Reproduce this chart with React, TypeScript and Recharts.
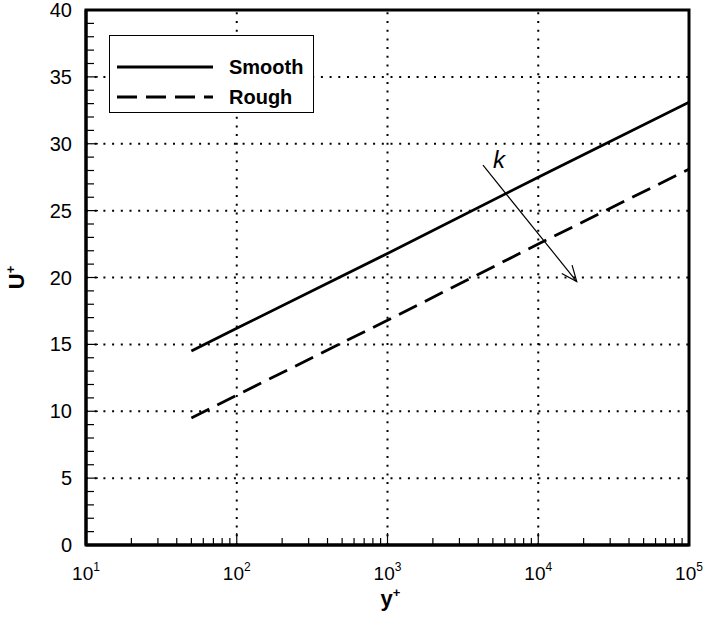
import React from "react";
import {
  LineChart,
  Line,
  XAxis,
  YAxis,
  Legend,
  ReferenceLine,
  ReferenceArea,
  ReferenceDot,
  Label,
} from "recharts";

// y+ positions and the two log-law profiles
const yPlus = [50, 100, 1000, 10000, 100000];
const smooth = [14.5, 16.2, 21.8, 27.5, 33.1];
const rough = [9.5, 11.2, 16.8, 22.5, 28.1];
const seriesNames = ["Smooth", "Rough"];

const xMajor = [10, 100, 1000, 10000, 100000];
const yMajor = [0, 5, 10, 15, 20, 25, 30, 35, 40];
const xGrid = [100, 1000, 10000];
const yGrid = [5, 10, 15, 20, 25, 30, 35];

// arrow showing increasing roughness k
const arrowFrom = { x: 4300, y: 28.4 };
const arrowTo = { x: 18000, y: 19.7 };
const kLabel = { x: 5500, y: 28.2, text: "k" };

const data = yPlus.map((y, i) => ({ y, smooth: smooth[i], rough: rough[i] }));

const xTicks: number[] = [];
for (let d = 10; d < 100000; d *= 10) {
  for (let m = 1; m < 10; m++) xTicks.push(d * m);
}
xTicks.push(100000);
const yTicks: number[] = [];
for (let v = 0; v <= 40; v++) yTicks.push(v);

const FONT = "'Liberation Sans', Arial, Helvetica, sans-serif";
const gridDash = { stroke: "#000", strokeWidth: 2, strokeDasharray: "2 6.7" };

function XTick(props: any) {
  const { x, y, payload } = props;
  const v = payload.value;
  const major = xMajor.includes(v);
  const exp = Math.round(Math.log10(v));
  return (
    <g>
      <line x1={x} y1={y} x2={x} y2={y - (major ? 12 : 7)} stroke="#000" strokeWidth={1.2} />
      {major && (
        <text x={x} y={y + 35} textAnchor="middle" fontSize={19} fontFamily={FONT} fill="#000">
          10
          <tspan fontSize={12} dy={-9}>
            {exp}
          </tspan>
        </text>
      )}
    </g>
  );
}

function YTick(props: any) {
  const { x, y, payload } = props;
  const v = payload.value;
  const major = yMajor.includes(v);
  return (
    <g>
      <line x1={x} y1={y} x2={x + (major ? 12 : 8)} y2={y} stroke="#000" strokeWidth={1.2} />
      {major && (
        <text x={x - 14} y={y + 7} textAnchor="end" fontSize={20} fontFamily={FONT} fill="#000">
          {v}
        </text>
      )}
    </g>
  );
}

function Arrow(props: any) {
  const { x1, y1, x2, y2 } = props;
  const ang = Math.atan2(y2 - y1, x2 - x1);
  const len = 17;
  const spread = 0.4;
  const a1x = x2 - len * Math.cos(ang - spread);
  const a1y = y2 - len * Math.sin(ang - spread);
  const a2x = x2 - len * Math.cos(ang + spread);
  const a2y = y2 - len * Math.sin(ang + spread);
  return (
    <g stroke="#000" strokeWidth={1.2} fill="none">
      <line x1={x1} y1={y1} x2={x2} y2={y2} />
      <polyline points={`${a1x},${a1y} ${x2},${y2} ${a2x},${a2y}`} />
    </g>
  );
}

function LegendBox(props: any) {
  const items = (props.payload || [])
    .filter((p: any) => seriesNames.includes(p.value))
    .sort((a: any, b: any) => seriesNames.indexOf(a.value) - seriesNames.indexOf(b.value));
  return (
    <div
      style={{
        width: 203,
        height: 76,
        border: "1px solid #000",
        background: "#fff",
        boxSizing: "content-box",
      }}
    >
      <svg width={203} height={76} style={{ display: "block" }}>
        {items.map((p: any, i: number) => (
          <g key={p.value}>
            <line
              x1={7}
              x2={103}
              y1={31 + i * 30}
              y2={31 + i * 30}
              stroke="#000"
              strokeWidth={3}
              strokeDasharray={p.payload?.strokeDasharray}
            />
            <text x={119} y={38 + i * 30} fontSize={20} fontWeight="bold" fontFamily={FONT} fill="#000">
              {p.value}
            </text>
          </g>
        ))}
      </svg>
    </div>
  );
}

function YTitle(props: any) {
  const { viewBox } = props;
  const cx = viewBox.x + 24;
  const cy = viewBox.y + viewBox.height / 2;
  return (
    <text
      x={cx}
      y={cy}
      transform={`rotate(-90 ${cx} ${cy})`}
      textAnchor="middle"
      fontSize={22}
      fontWeight="bold"
      fontFamily={FONT}
      fill="#000"
    >
      U
      <tspan fontSize={13} dy={-9}>
        +
      </tspan>
    </text>
  );
}

function XTitle(props: any) {
  const { viewBox } = props;
  const cx = viewBox.x + viewBox.width / 2;
  return (
    <text x={cx + 3} y={606} textAnchor="middle" fontSize={22} fontWeight="bold" fontFamily={FONT} fill="#000">
      y
      <tspan fontSize={13} dy={-9}>
        +
      </tspan>
    </text>
  );
}

export default function App() {
  return (
    <div style={{ position: "absolute", left: 0, top: 0, background: "#fff" }}>
      <LineChart width={704} height={619} data={data} margin={{ top: 10, right: 15, bottom: 0, left: 0 }}>
        <XAxis
          dataKey="y"
          type="number"
          scale="log"
          domain={[10, 100000]}
          ticks={xTicks}
          interval={0}
          tickSize={0}
          tickMargin={0}
          tickLine={false}
          tick={<XTick />}
          height={74}
          axisLine={{ stroke: "#000", strokeWidth: 3 }}
          allowDataOverflow
        >
          <Label content={<XTitle />} />
        </XAxis>
        <YAxis
          type="number"
          domain={[0, 40]}
          ticks={yTicks}
          interval={0}
          tickSize={0}
          tickMargin={0}
          tickLine={false}
          tick={<YTick />}
          width={86}
          axisLine={{ stroke: "#000", strokeWidth: 3 }}
        >
          <Label content={<YTitle />} />
        </YAxis>
        {xGrid.map((v) => (
          <ReferenceLine key={"x" + v} x={v} {...gridDash} />
        ))}
        {yGrid.map((v) => (
          <ReferenceLine key={"y" + v} y={v} {...gridDash} />
        ))}
        <Line
          dataKey="smooth"
          name="Smooth"
          stroke="#000"
          strokeWidth={2.8}
          dot={false}
          type="linear"
          isAnimationActive={false}
        />
        <Line
          dataKey="rough"
          name="Rough"
          stroke="#000"
          strokeWidth={2.8}
          strokeDasharray="20 9"
          dot={false}
          type="linear"
          isAnimationActive={false}
        />
        <ReferenceLine segment={[arrowFrom, arrowTo]} shape={<Arrow />} />
        <ReferenceDot
          x={kLabel.x}
          y={kLabel.y}
          r={0}
          shape={(p: any) => (
            <text x={p.cx} y={p.cy} textAnchor="middle" fontSize={24} fontStyle="italic" fontFamily={FONT} fill="#000">
              {kLabel.text}
            </text>
          )}
        />
        <ReferenceArea x1={10} x2={100000} y1={0} y2={40} fill="none" stroke="#000" strokeWidth={3} />
        <Legend
          layout="horizontal"
          verticalAlign="middle"
          align="center"
          content={<LegendBox />}
          wrapperStyle={{ position: "absolute", left: 109, top: 35, width: "auto", height: "auto" }}
        />
      </LineChart>
    </div>
  );
}
